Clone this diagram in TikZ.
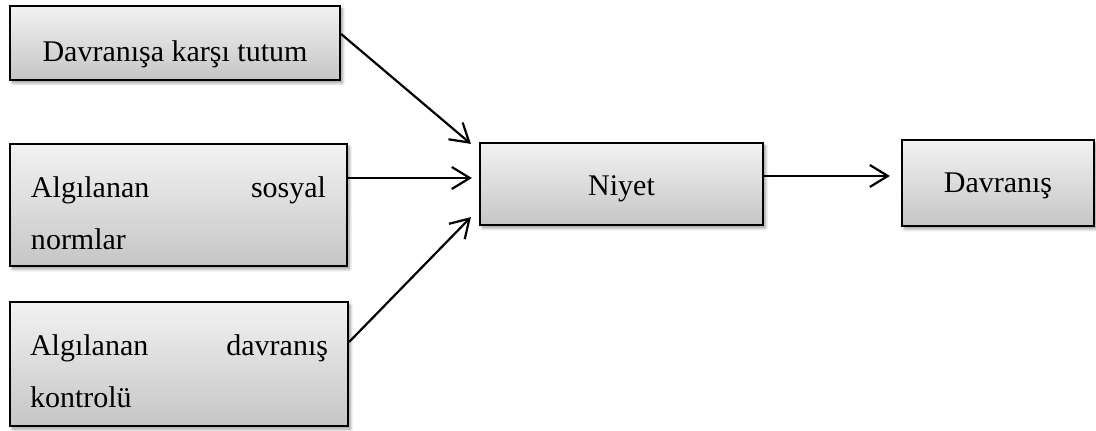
\documentclass[tikz,border=0pt]{standalone}
\usepackage{fontspec}
\setmainfont{Liberation Serif}
\usetikzlibrary{arrows.meta,shadows.blur}

\begin{document}
\begin{tikzpicture}[x=0.5pt,y=-0.5pt]
\tikzset{kutu/.style={draw=black, line width=1.1pt, top color=gray!10, bottom color=gray!45, inner sep=0pt,
  blur shadow={shadow xshift=1.2pt,shadow yshift=-1.5pt,shadow blur steps=6,shadow blur radius=1.5pt},
  font=\fontsize{15}{26}\selectfont},
  ok/.style={line width=1.1pt, -{Straight Barb[length=9pt,width=11pt]}}}
\useasboundingbox (0,0) rectangle (1096,431);

\node[kutu,minimum width=165pt,minimum height=37pt,text height=19pt,text depth=0pt] (tutum) at (175,43) {Davranışa karşı tutum};
\node[kutu,minimum width=168.5pt,minimum height=61pt,text width=147.5pt,align=left] (normlar) at (178.5,205) {\rule{0pt}{19pt}Algılanan\hfill sosyal\\normlar};
\node[kutu,minimum width=169pt,minimum height=62pt,text width=149pt,align=left] (kontrol) at (179,364) {\rule{0pt}{17.5pt}Algılanan\hfill davranış\\kontrolü};
\node[kutu,minimum width=141.5pt,minimum height=41pt,text height=12pt,text depth=0pt] (niyet) at (621.5,184) {Niyet};
\node[kutu,minimum width=96pt,minimum height=43pt,text height=10pt,text depth=0pt] (davranis) at (998,183) {Davranış};

\draw[ok] ([yshift=4.5pt]tutum.east) -- ([xshift=-4pt,yshift=-1pt]niyet.north west);
\draw[ok] ([yshift=13.5pt]normlar.east) -- ([xshift=-3.5pt,yshift=3pt]niyet.west);
\draw[ok] ([yshift=11pt]kontrol.east) -- ([xshift=-4pt,yshift=4.5pt]niyet.south west);
\draw[ok] ([yshift=4pt]niyet.east) -- ([xshift=-5.5pt,yshift=3.5pt]davranis.west);
\end{tikzpicture}
\end{document}
